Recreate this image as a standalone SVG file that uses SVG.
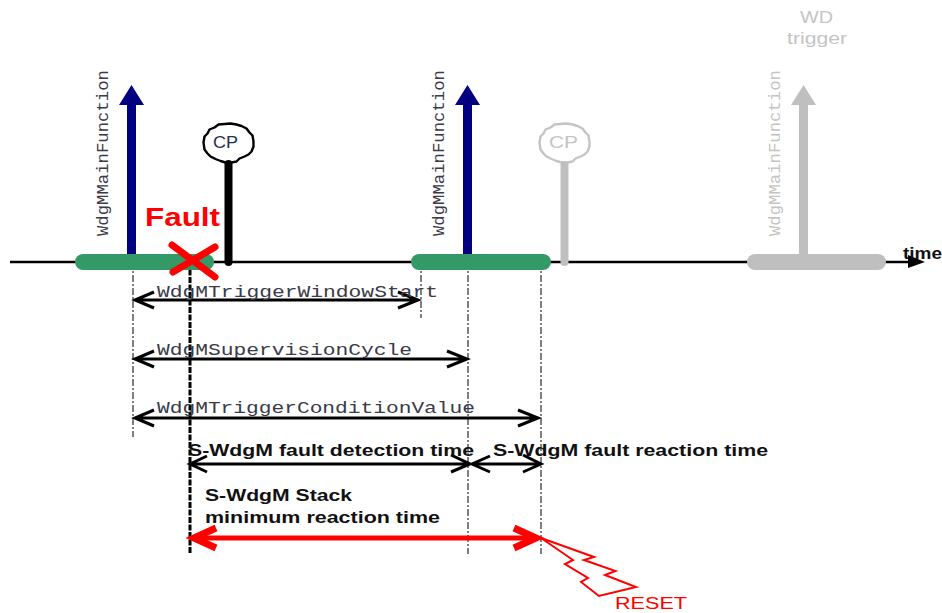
<svg xmlns="http://www.w3.org/2000/svg" width="942" height="613" viewBox="0 0 942 613">
<style>
text{font-family:"Liberation Sans",Arial,sans-serif}
.mono{font-family:"Liberation Mono","Courier New",monospace;font-size:16px;fill:#3a3a48}
.b{font-weight:bold;font-size:16.5px;fill:#111}
.dd{stroke:#000;stroke-width:1;stroke-dasharray:7 2 2 2;fill:none}
.thick{stroke:#000;stroke-width:3;stroke-dasharray:6 1.500;fill:none}
.dim{stroke:#000;fill:none;stroke-width:3}
.blob{fill:#fff;stroke-width:2.400;stroke-linejoin:round}
.red{stroke:#f00;fill:none}
</style>
<defs>
<path id="blob" d="M-25-1-24-7-21-10-19-14-14-16-10-19-4-19.500 2-20 8-19 13-17.500 18-15 21-11 24-8 25-2 25 3 23 8 20 11 16 13 11 15 8 18 3 19-3 19-8 17.500-13 15.500-18 13-21 10-24 6Z"/>
</defs>
<rect width="942" height="613" fill="#fff"/>
<g id="guides">
<path class="dd" d="M133 262V437M421 262V318M468 262V554M541 262V554"/>
<path class="thick" d="M190 262V554"/>
</g>
<g id="timeline">
<path d="M10 262H910" stroke="#000" stroke-width="2.500"/>
<path d="M908 255 925 262 908 268Z" fill="#000"/>
<text x="903" y="259" font-size="16" font-weight="bold" fill="#111" textLength="39" lengthAdjust="spacingAndGlyphs">time</text>
</g>
<g id="window1"><rect x="75" y="254" width="139" height="16" rx="8" fill="#339966"/></g>
<g id="window2"><rect x="411" y="254" width="140" height="16" rx="8" fill="#339966"/></g>
<g id="window3"><rect x="747" y="254" width="139" height="16" rx="8" fill="#bfbfbf"/></g>
<g id="trigger1">
<path d="M127 254V105H119L131.500 85 144 105H136V254Z" fill="#000080"/>
<text class="mono" transform="translate(108 236) rotate(-90)" textLength="166" lengthAdjust="spacingAndGlyphs">WdgMMainFunction</text>
</g>
<g id="trigger2">
<path d="M463 254V105H455L467.500 85 480 105H472V254Z" fill="#000080"/>
<text class="mono" transform="translate(444 236) rotate(-90)" textLength="166" lengthAdjust="spacingAndGlyphs">WdgMMainFunction</text>
</g>
<g id="trigger3">
<path d="M799 254V105H791L803.500 85 816 105H808V254Z" fill="#bfbfbf"/>
<text class="mono" transform="translate(780 236) rotate(-90)" style="fill:#c4c4c4" textLength="166" lengthAdjust="spacingAndGlyphs">WdgMMainFunction</text>
<text x="800" y="23" font-size="16" fill="#c4c4c4" textLength="33" lengthAdjust="spacingAndGlyphs">WD</text>
<text x="787" y="44" font-size="16" fill="#c4c4c4" textLength="60" lengthAdjust="spacingAndGlyphs">trigger</text>
</g>
<g id="cp1">
<use href="#blob" class="blob" stroke="#000" transform="translate(228.500 143.500)"/>
<text x="213" y="148" font-size="16" fill="#1f2f55" textLength="25" lengthAdjust="spacingAndGlyphs">CP</text>
<path d="M228.500 164V262" stroke="#000" stroke-width="8" stroke-linecap="round"/>
</g>
<g id="cp2">
<use href="#blob" class="blob" stroke="#c4c4c4" transform="translate(564.500 143.500)"/>
<text x="549" y="148" font-size="16" fill="#c4c4c4" textLength="29" lengthAdjust="spacingAndGlyphs">CP</text>
<path d="M564.500 165V262" stroke="#bfbfbf" stroke-width="8" stroke-linecap="round"/>
</g>
<g id="fault">
<text x="145" y="226" font-size="25" font-weight="bold" fill="#f00" textLength="75" lengthAdjust="spacingAndGlyphs">Fault</text>
<path d="M172 245 215 277M215 247 173 272" stroke="#f00" stroke-width="7" stroke-linecap="round"/>
</g>
<g id="connectors">
<path class="dim" d="M135 300H418M154 292 135 300 154 308M398 292 418 300 398 308"/>
<path class="dim" d="M135 359H467M154 351 135 359 154 367M447 351 467 359 447 367"/>
<path class="dim" d="M135 418H538M154 410 135 418 154 426M518 410 538 418 518 426"/>
<path class="dim" d="M190 464H470M207 456 190 464 207 472M451 455 470 464 451 472"/>
<path class="dim" d="M472 464H541M490 456 472 464 490 472M523 455 541 464 523 472"/>
<path class="red" stroke-width="5" d="M194 538H536"/>
<path class="red" stroke-width="7" d="M216 528 194 538 216 548M514 528 536 538 514 548"/>
</g>
<g id="labels">
<text class="mono" x="157" y="297" textLength="281" lengthAdjust="spacingAndGlyphs">WdgMTriggerWindowStart</text>
<text class="mono" x="157" y="355" textLength="255" lengthAdjust="spacingAndGlyphs">WdgMSupervisionCycle</text>
<text class="mono" x="157" y="413" textLength="318" lengthAdjust="spacingAndGlyphs">WdgMTriggerConditionValue</text>
<text class="b" x="188" y="456" textLength="286" lengthAdjust="spacingAndGlyphs">S-WdgM fault detection time</text>
<text class="b" x="493" y="456" textLength="275" lengthAdjust="spacingAndGlyphs">S-WdgM fault reaction time</text>
<text class="b" x="205" y="501" textLength="147" lengthAdjust="spacingAndGlyphs">S-WdgM Stack</text>
<text class="b" x="205" y="523" textLength="235" lengthAdjust="spacingAndGlyphs">minimum reaction time</text>
</g>
<g id="reset">
<path d="M541 538 594 557 584 560 615.500 571 605 575 636 587 599 596 581 582 588 578 565 564 573 560Z" fill="#fff" stroke="#f00" stroke-width="2"/>
<text x="615" y="609" font-size="16" fill="#f00" textLength="72" lengthAdjust="spacingAndGlyphs">RESET</text>
</g>
</svg>
